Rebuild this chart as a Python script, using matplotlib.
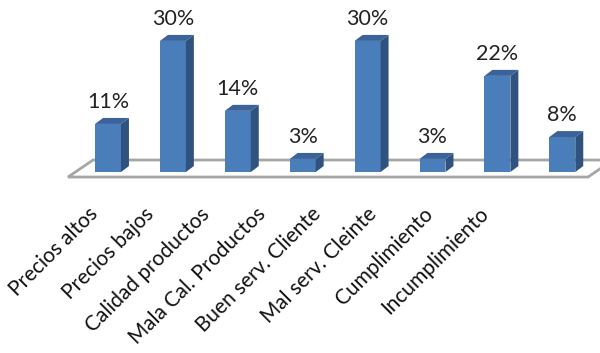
import matplotlib
matplotlib.use("Agg")
import matplotlib.pyplot as plt
from matplotlib.patches import Polygon

categorias = ["Precios altos", "Precios bajos", "Calidad productos",
              "Mala Cal. Productos", "Buen serv. Cliente", "Mal serv. Cleinte",
              "Cumplimiento", "Incumplimiento"]
porcentajes = [11, 30, 14, 3, 30, 3, 22, 8]

FRONT = "#4a7ebb"
SIDE = "#30527e"
TOP = "#3b6399"
FLOOR = "#a6a6a6"

fig = plt.figure(figsize=(6, 3.53), dpi=100)
ax = fig.add_axes([0, 0, 1, 1])
ax.set_xlim(-1.664, 7.581)
ax.set_ylim(-41.4, 39.36)
ax.axis("off")

ancho = 0.40
dx, dy = 0.123, 1.37   # profundidad del efecto 3D

# piso del grafico
piso = Polygon([(-0.616, -1.14), (7.396, -1.14), (7.78, 2.75), (-0.231, 2.75)],
               closed=True, facecolor="white", edgecolor=FLOOR, lw=2, zorder=1)
ax.add_patch(piso)

x = list(range(len(porcentajes)))
barras = ax.bar(x, porcentajes, width=ancho, color=FRONT, zorder=3)

for b, v in zip(barras, porcentajes):
    x0 = b.get_x()
    x1 = x0 + b.get_width()
    h = b.get_height()
    lado = Polygon([(x1, 0), (x1 + dx, dy), (x1 + dx, h + dy), (x1, h)],
                   closed=True, facecolor=SIDE, edgecolor="none", zorder=3)
    tapa = Polygon([(x0, h), (x1, h), (x1 + dx, h + dy), (x0 + dx, h + dy)],
                   closed=True, facecolor=TOP, edgecolor="none", zorder=3)
    ax.add_patch(lado)
    ax.add_patch(tapa)
    ax.text(x0 + b.get_width() / 2, h + dy + 2.3, f"{v}%",
            ha="center", va="baseline", fontsize=15.5, color="#222222",
            family="Lato")

# etiquetas del eje, inclinadas 45 grados
for i, cat in enumerate(categorias):
    ax.text(-0.31 + i * 0.86, -7.3, cat, rotation=45, rotation_mode="anchor",
            ha="right", va="top", fontsize=15, color="#111111", family="Lato")

fig.savefig("out.png", dpi=100)
